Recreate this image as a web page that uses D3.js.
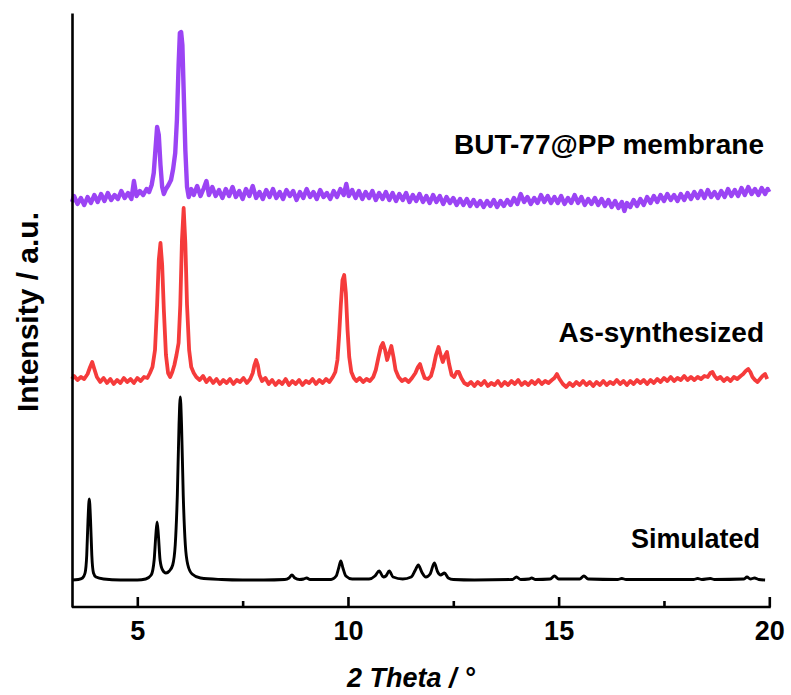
<!DOCTYPE html>
<html>
<head>
<meta charset="utf-8">
<script src="https://cdn.jsdelivr.net/npm/d3@7"></script>
<style>
  body { margin: 0; background: #fff; }
  text { font-family: "Liberation Sans", Arial, sans-serif; font-weight: bold; }
</style>
</head>
<body>
<div class="chart"></div>
<script>
// chart size
var svgWidth = 791;
var svgHeight = 695;

// tick values on the 2 Theta axis
var majorTicks = [5, 10, 15, 20];
var minorTicks = [7.5, 12.5, 17.5];

// series names
var seriesNames = ["Simulated", "As-synthesized", "BUT-77@PP membrane"];
var seriesColors = ["#000000", "#f53b3b", "#9b44f4"];

// simulated pattern [2theta, intensity]
var simulated = [
  [3.45,25],[3.6,25.5],[3.7,27],[3.76,32],[3.8,50],[3.83,85],[3.86,106],[3.89,85],[3.92,50],[3.96,32],
  [4.02,28],[4.2,26],[4.6,25],[5.0,25],[5.2,26],[5.33,30],[5.4,45],[5.44,70],[5.47,83],[5.5,70],
  [5.54,45],[5.6,35],[5.68,32],[5.76,34],[5.84,40],[5.9,60],[5.95,110],[5.99,180],[6.02,208],[6.05,180],
  [6.09,110],[6.14,60],[6.2,40],[6.3,31],[6.5,27],[7,25.5],[7.5,25],[8,25],[8.5,25.5],[8.6,27],
  [8.67,30],[8.74,27],[8.85,25.5],[8.95,26],[9.02,27],[9.1,25.5],[9.6,25.5],[9.72,29],[9.78,37],[9.83,44],
  [9.88,37],[9.95,29],[10.1,26],[10.5,26],[10.64,29],[10.74,34],[10.84,28],[10.9,29],[10.98,34],[11.07,28],
  [11.3,26],[11.5,28],[11.6,35],[11.67,40],[11.75,33],[11.85,28],[11.95,31],[12.05,42],[12.13,33],[12.2,30],
  [12.29,32],[12.38,27],[12.5,25.5],[13,25],[13.9,25.5],[14.0,28],[14.1,25.5],[14.3,26],[14.36,27],[14.45,25.5],
  [14.8,26],[14.9,29],[15.0,26],[15.5,26],[15.6,29],[15.7,26],[16.4,25.5],[16.5,26.5],[16.6,25.5],[18.2,25.5],
  [18.3,26.5],[18.4,25.5],[18.6,26.5],[18.7,25.5],[19.4,26],[19.47,28],[19.55,26],[19.65,27],[19.75,25.5],[19.9,25]
];

// as-synthesized pattern
var asSynth = [
  [3.45,226],[3.5,229],[3.58,225],[3.66,228],[3.74,226],[3.82,231],[3.88,238],[3.93,243],[3.98,236],[4.04,228],
  [4.12,223],[4.2,227],[4.28,222],[4.36,226],[4.44,221],[4.52,225],[4.6,222],[4.68,227],[4.76,223],[4.84,226],
  [4.92,222],[5.0,227],[5.08,224],[5.16,228],[5.24,227],[5.3,232],[5.36,238],[5.42,255],[5.47,300],[5.51,345],
  [5.55,362],[5.59,340],[5.63,295],[5.68,250],[5.73,232],[5.78,228],[5.83,233],[5.88,240],[5.93,250],[5.98,262],
  [6.02,300],[6.06,365],[6.1,397],[6.14,362],[6.18,300],[6.23,255],[6.28,238],[6.34,232],[6.4,228],[6.48,225],
  [6.56,229],[6.64,223],[6.72,227],[6.8,222],[6.88,226],[6.96,221],[7.04,225],[7.12,222],[7.2,226],[7.28,221],
  [7.36,225],[7.44,223],[7.52,227],[7.6,222],[7.68,226],[7.74,232],[7.78,240],[7.82,245],[7.86,240],[7.9,230],
  [7.96,224],[8.04,227],[8.12,221],[8.2,225],[8.28,220],[8.36,224],[8.44,221],[8.52,226],[8.6,220],[8.68,224],
  [8.76,221],[8.84,225],[8.92,220],[9.0,224],[9.08,222],[9.16,226],[9.24,221],[9.32,225],[9.4,222],[9.48,226],
  [9.56,223],[9.64,228],[9.7,233],[9.75,245],[9.79,270],[9.83,300],[9.87,325],[9.91,330],[9.95,312],[9.99,275],
  [10.03,248],[10.08,233],[10.14,227],[10.2,224],[10.28,227],[10.36,223],[10.44,226],[10.52,224],[10.6,228],[10.66,235],
  [10.72,247],[10.78,258],[10.83,262],[10.88,255],[10.93,245],[10.98,252],[11.03,259],[11.08,248],[11.13,235],[11.2,228],
  [11.28,224],[11.36,226],[11.44,223],[11.52,227],[11.6,232],[11.66,238],[11.71,241],[11.76,234],[11.82,227],[11.9,226],
  [11.97,229],[12.03,238],[12.09,250],[12.15,258],[12.2,250],[12.25,243],[12.3,249],[12.35,253],[12.4,241],[12.46,230],
  [12.52,228],[12.58,233],[12.63,233],[12.69,227],[12.76,222],[12.84,220],[12.92,223],[13.0,219],[13.08,223],[13.16,220],
  [13.24,224],[13.32,219],[13.4,222],[13.48,220],[13.56,224],[13.64,219],[13.72,223],[13.8,220],[13.88,224],[13.96,221],
  [14.04,225],[14.12,220],[14.2,223],[14.28,220],[14.36,224],[14.44,221],[14.52,225],[14.6,221],[14.68,224],[14.76,222],
  [14.84,225],[14.9,227],[14.96,231],[15.02,226],[15.1,221],[15.18,218],[15.26,222],[15.34,219],[15.42,223],[15.5,220],
  [15.58,224],[15.66,220],[15.74,223],[15.82,219],[15.9,223],[15.98,220],[16.06,224],[16.14,220],[16.22,223],[16.3,221],
  [16.38,225],[16.46,221],[16.54,224],[16.62,220],[16.7,224],[16.78,221],[16.86,225],[16.94,222],[17.02,225],[17.1,221],
  [17.18,225],[17.26,222],[17.34,226],[17.42,223],[17.5,227],[17.58,224],[17.66,228],[17.74,224],[17.82,227],[17.9,225],
  [17.98,229],[18.06,225],[18.14,228],[18.22,225],[18.3,228],[18.38,226],[18.46,229],[18.54,228],[18.6,232],[18.65,233],
  [18.7,229],[18.76,226],[18.84,228],[18.92,224],[19.0,227],[19.08,224],[19.16,228],[19.24,226],[19.32,229],[19.38,231],
  [19.44,234],[19.5,236],[19.55,233],[19.6,228],[19.66,225],[19.72,223],[19.78,226],[19.84,229],[19.9,231],[19.95,226]
];

// membrane pattern
var membrane = [
  [3.45,403],[3.5,409],[3.58,401],[3.66,407],[3.74,400],[3.82,408],[3.9,402],[3.98,410],[4.06,403],[4.14,411],
  [4.22,404],[4.3,412],[4.38,405],[4.46,410],[4.54,406],[4.62,414],[4.7,407],[4.78,412],[4.86,406],[4.92,424],
  [4.98,409],[5.06,414],[5.14,410],[5.22,416],[5.28,413],[5.34,420],[5.39,432],[5.43,455],[5.47,478],[5.51,470],
  [5.55,440],[5.59,418],[5.63,411],[5.68,416],[5.74,420],[5.8,425],[5.85,436],[5.9,452],[5.94,485],[5.98,540],
  [6.01,572],[6.04,573],[6.07,560],[6.1,515],[6.14,455],[6.18,418],[6.22,408],[6.28,416],[6.34,410],[6.42,419],
  [6.5,409],[6.58,417],[6.64,424],[6.7,410],[6.78,418],[6.86,409],[6.94,415],[7.02,407],[7.1,416],[7.18,409],
  [7.26,418],[7.34,408],[7.42,414],[7.5,406],[7.58,416],[7.66,409],[7.74,419],[7.82,407],[7.9,413],[7.98,406],
  [8.06,415],[8.14,408],[8.22,416],[8.3,407],[8.38,413],[8.46,406],[8.54,415],[8.62,409],[8.7,414],[8.78,405],
  [8.86,413],[8.94,407],[9.02,416],[9.1,408],[9.18,413],[9.26,406],[9.34,415],[9.42,408],[9.5,412],[9.58,406],
  [9.66,414],[9.74,408],[9.82,416],[9.9,410],[9.96,421],[10.02,409],[10.1,415],[10.18,407],[10.26,414],[10.34,406],
  [10.42,413],[10.5,407],[10.58,414],[10.66,405],[10.74,412],[10.82,406],[10.9,413],[10.98,405],[11.06,412],[11.14,404],
  [11.22,411],[11.3,405],[11.38,412],[11.46,403],[11.54,410],[11.62,404],[11.7,411],[11.78,403],[11.86,409],[11.94,402],
  [12.02,410],[12.1,403],[12.18,409],[12.26,401],[12.34,408],[12.42,402],[12.5,407],[12.58,400],[12.66,406],[12.74,400],
  [12.82,406],[12.9,399],[12.98,405],[13.06,399],[13.14,404],[13.22,398],[13.3,404],[13.38,399],[13.46,405],[13.54,398],
  [13.62,404],[13.7,399],[13.78,405],[13.86,400],[13.94,407],[14.02,401],[14.1,411],[14.18,403],[14.26,408],[14.34,401],
  [14.42,407],[14.5,402],[14.58,410],[14.66,403],[14.74,409],[14.82,402],[14.9,408],[14.98,402],[15.06,409],[15.14,401],
  [15.22,407],[15.3,402],[15.38,410],[15.46,402],[15.54,408],[15.62,400],[15.7,406],[15.78,401],[15.86,407],[15.94,400],
  [16.02,406],[16.1,399],[16.18,405],[16.26,398],[16.34,404],[16.42,397],[16.5,403],[16.56,394],[16.62,402],[16.7,398],
  [16.78,405],[16.86,399],[16.94,406],[17.02,400],[17.1,408],[17.18,402],[17.26,409],[17.34,403],[17.42,410],[17.5,404],
  [17.58,411],[17.66,405],[17.74,410],[17.82,404],[17.9,411],[17.98,405],[18.06,412],[18.14,406],[18.22,413],[18.3,407],
  [18.38,414],[18.46,407],[18.54,415],[18.62,408],[18.7,413],[18.78,407],[18.86,414],[18.94,408],[19.02,416],[19.1,409],
  [19.18,415],[19.26,409],[19.34,417],[19.42,410],[19.5,418],[19.58,411],[19.66,416],[19.74,410],[19.82,417],[19.9,411],
  [19.96,416],[20.0,413]
];

// label baselines (in intensity units) and sizes
var labelLevels = [57, 263, 451];
var labelSizes = [27, 28, 28];

var margin = { top: 13, right: 20, bottom: 88, left: 72 };
var width = svgWidth - margin.left - margin.right;
var height = svgHeight - margin.top - margin.bottom;

var svg = d3.select('.chart')
  .append('svg')
    .attr('width', svgWidth)
    .attr('height', svgHeight)
  .append('g')
    .attr('transform', 'translate(' + margin.left + ',' + margin.top + ')');

// scales
var xScale = d3.scaleLinear().domain([3.45, 20]).range([0, 697.3]);
var yScale = d3.scaleLinear().domain([-2, 592]).range([height, 0]);

var line = d3.line()
  .x(function(d) { return xScale(d[0]); })
  .y(function(d) { return yScale(d[1]); });

var smooth = d3.line()
  .curve(d3.curveMonotoneX)
  .x(function(d) { return xScale(d[0]); })
  .y(function(d) { return yScale(d[1]); });

// patterns
svg.append('path')
  .datum(simulated)
  .attr('d', smooth)
  .attr('fill', 'none')
  .attr('stroke', seriesColors[0])
  .attr('stroke-width', 2.9)
  .attr('stroke-linejoin', 'round');

svg.append('path')
  .datum(asSynth)
  .attr('d', line)
  .attr('fill', 'none')
  .attr('stroke', seriesColors[1])
  .attr('stroke-width', 3.8)
  .attr('stroke-linejoin', 'round');

svg.append('path')
  .datum(membrane)
  .attr('d', line)
  .attr('fill', 'none')
  .attr('stroke', seriesColors[2])
  .attr('stroke-width', 4.4)
  .attr('stroke-linejoin', 'round');

// series labels
svg.selectAll('.series-label')
  .data(seriesNames)
  .enter().append('text')
    .attr('class', 'series-label')
    .attr('x', function(d, i) { return i === 0 ? 688 : 692; })
    .attr('y', function(d, i) { return yScale(labelLevels[i]); })
    .attr('text-anchor', 'end')
    .attr('font-size', function(d, i) { return labelSizes[i]; })
    .text(function(d) { return d; });

// bottom axis
var bottomAxis = d3.axisBottom(xScale)
  .tickValues(majorTicks)
  .tickSize(-10)
  .tickPadding(14)
  .tickFormat(d3.format('d'));

var xAxisG = svg.append('g')
  .attr('transform', 'translate(0,' + height + ')')
  .call(bottomAxis);

xAxisG.select('.domain')
  .attr('d', 'M0,0H' + (xScale(20) + 1.5));
xAxisG.selectAll('path, line')
  .attr('stroke', '#000')
  .attr('stroke-width', 2.6);
xAxisG.selectAll('text')
  .attr('font-size', 27)
  .attr('font-family', '"Liberation Sans", Arial, sans-serif')
  .attr('font-weight', 'bold')
  .attr('fill', '#000');

var minorAxis = d3.axisBottom(xScale)
  .tickValues(minorTicks)
  .tickSize(-6)
  .tickFormat('');

var minorG = svg.append('g')
  .attr('transform', 'translate(0,' + height + ')')
  .call(minorAxis);
minorG.select('.domain').remove();
minorG.selectAll('line')
  .attr('stroke', '#000')
  .attr('stroke-width', 2.6);

// left axis, no ticks
var leftAxis = d3.axisLeft(yScale).tickValues([]).tickSizeOuter(0);
svg.append('g')
  .call(leftAxis)
  .select('.domain')
    .attr('stroke', '#000')
    .attr('stroke-width', 2.6);

// axis titles
svg.append('text')
  .attr('x', 339)
  .attr('y', height + 80)
  .attr('text-anchor', 'middle')
  .attr('font-size', 27)
  .attr('font-style', 'italic')
  .text('2 Theta / \u00b0');

svg.append('text')
  .attr('transform', 'rotate(-90)')
  .attr('x', 0 - 299)
  .attr('y', 0 - 34)
  .attr('text-anchor', 'middle')
  .attr('font-size', 30)
  .text('Intensity / a.u.');
</script>
</body>
</html>
